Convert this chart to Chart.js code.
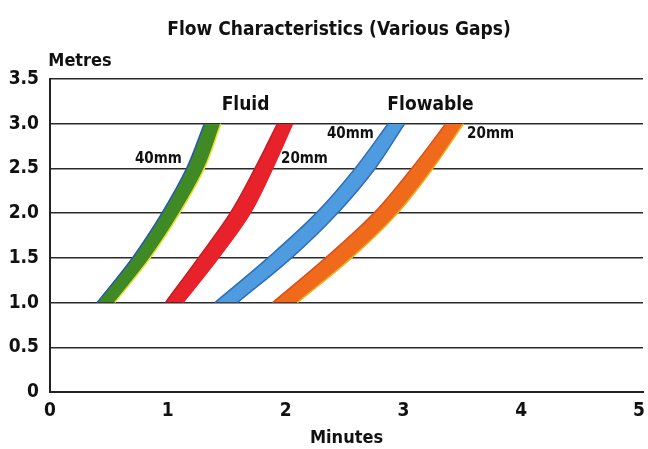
<!DOCTYPE html>
<html>
<head>
<meta charset="utf-8">
<script src="https://cdn.jsdelivr.net/npm/chart.js@4/dist/chart.umd.min.js"></script>
<style>
  html, body { margin: 0; padding: 0; background: #fff; }
  #wrap { width: 648px; height: 449px; }
</style>
</head>
<body>
<div id="wrap"><canvas id="chart"></canvas></div>
<script>
// heights (metres) and the left / right edge times (minutes) of each band
const heights = [1.0, 1.5, 2.0, 2.5, 3.0];
const fluid40Lo = [0.40, 0.70, 0.95, 1.16, 1.31];
const fluid40Hi = [0.55, 0.85, 1.10, 1.31, 1.45];
const fluid20Lo = [0.98, 1.26, 1.53, 1.74, 1.93];
const fluid20Hi = [1.13, 1.43, 1.70, 1.89, 2.06];
const flow40Lo = [1.40, 1.85, 2.26, 2.59, 2.87];
const flow40Hi = [1.59, 2.05, 2.44, 2.76, 3.01];
const flow20Lo = [1.89, 2.34, 2.75, 3.07, 3.36];
const flow20Hi = [2.10, 2.56, 2.95, 3.25, 3.51];

const xTicks = [0, 1, 2, 3, 4, 5];
const yTicks = [0, 0.5, 1.0, 1.5, 2.0, 2.5, 3.0, 3.5];

// text placed on the plot, in data units
const notes = [
  { text: 'Fluid', x: 1.66, y: 3.21, size: 19 },
  { text: 'Flowable', x: 3.23, y: 3.21, size: 19 },
  { text: '40mm', x: 0.92, y: 2.60, size: 15 },
  { text: '20mm', x: 2.16, y: 2.60, size: 15 },
  { text: '40mm', x: 2.55, y: 2.88, size: 15 },
  { text: '20mm', x: 3.74, y: 2.88, size: 15 }
];

const FONT = "'Liberation Sans Narrow', 'DejaVu Sans Condensed', 'Roboto', sans-serif";

function pts(xs) {
  return xs.map((x, i) => ({ x: x, y: heights[i] }));
}

function band(lo, hi, fillColor, loColor, hiColor) {
  return [
    { data: pts(lo), borderColor: loColor, borderWidth: 1.5, fill: false, pointRadius: 0, tension: 0.35 },
    { data: pts(hi), borderColor: hiColor, borderWidth: 1.5, backgroundColor: fillColor, fill: '-1', pointRadius: 0, tension: 0.35 }
  ];
}

const datasets = [].concat(
  band(fluid40Lo, fluid40Hi, '#3f8a25', '#2456b8', '#e6e020'),
  band(fluid20Lo, fluid20Hi, '#e8222a', '#c81a20', '#e8222a'),
  band(flow40Lo, flow40Hi, '#4e9be0', '#2e6fb8', '#2e6fb8'),
  band(flow20Lo, flow20Hi, '#f06a1c', '#d8501a', '#e8b020')
);

const textPlugin = {
  id: 'textPlugin',
  afterDraw(chart) {
    const ctx = chart.ctx;
    const xs = chart.scales.x, ys = chart.scales.y;
    ctx.save();
    ctx.fillStyle = '#111';
    ctx.textAlign = 'center';
    ctx.textBaseline = 'middle';
    ctx.font = 'bold 19px ' + FONT;
    ctx.fillText('Flow Characteristics (Various Gaps)', 339, 30);
    ctx.font = 'bold 18px ' + FONT;
    ctx.fillText('Metres', 80, 61);
    notes.forEach(n => {
      ctx.font = 'bold ' + n.size + 'px ' + FONT;
      ctx.fillText(n.text, xs.getPixelForValue(n.x), ys.getPixelForValue(n.y));
    });
    ctx.restore();
  }
};

new Chart(document.getElementById('chart'), {
  type: 'line',
  data: { datasets },
  options: {
    indexAxis: 'y',
    responsive: true,
    maintainAspectRatio: false,
    animation: false,
    layout: { padding: { top: 79, right: 5, left: 0, bottom: 0 } },
    plugins: { legend: { display: false }, tooltip: { enabled: false } },
    scales: {
      x: {
        type: 'linear',
        min: 0, max: 5.034,
        afterBuildTicks: s => { s.ticks = xTicks.map(v => ({ value: v })); },
        afterFit: s => { s.height = 57; s.paddingRight = 0; s.paddingLeft = 0; },
        grid: { display: false, drawTicks: false },
        border: { display: true, color: '#222', width: 2 },
        ticks: { color: '#111', padding: 8, font: { family: FONT, size: 19, weight: 'bold' } },
        title: { display: true, text: 'Minutes', color: '#111', padding: { top: 4, bottom: 0 }, font: { family: FONT, size: 18, weight: 'bold' } }
      },
      y: {
        type: 'linear',
        min: 0, max: 3.5,
        afterBuildTicks: s => { s.ticks = yTicks.map(v => ({ value: v })); },
        afterFit: s => { s.width = 50; },
        grid: { color: '#2a2a2a', lineWidth: 1.5, drawTicks: false },
        border: { display: true, color: '#222', width: 2 },
        ticks: {
          color: '#111', padding: 11,
          font: { family: FONT, size: 19, weight: 'bold' },
          callback: v => v === 0 ? '0' : v.toFixed(1)
        }
      }
    }
  },
  plugins: [textPlugin]
});
</script>
</body>
</html>
